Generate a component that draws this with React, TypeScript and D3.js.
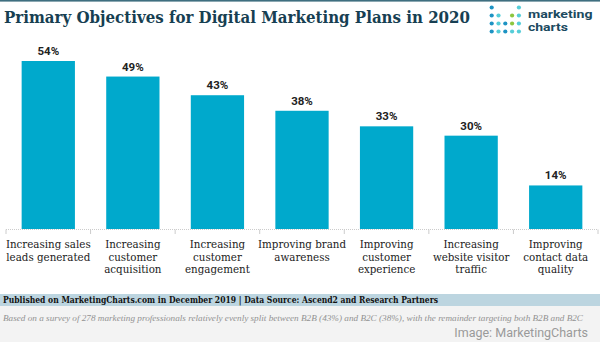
import React from "react";
import * as d3 from "d3";

const categories: string[][] = [
  ["Increasing sales", "leads generated"],
  ["Increasing", "customer", "acquisition"],
  ["Increasing", "customer", "engagement"],
  ["Improving brand", "awareness"],
  ["Improving", "customer", "experience"],
  ["Increasing", "website visitor", "traffic"],
  ["Improving", "contact data", "quality"],
];
const values: number[] = [54, 49, 43, 38, 33, 30, 14];
const title = "Primary Objectives for Digital Marketing Plans in 2020";
const sourceText =
  "Published on MarketingCharts.com in December 2019 | Data Source: Ascend2 and Research Partners";
const noteText =
  "Based on a survey of 278 marketing professionals relatively evenly split between B2B (43%) and B2C (38%), with the remainder targeting both B2B and B2C";
const creditText = "Image: MarketingCharts";

const W = 600;
const H = 342;

const logoDots: { r: number; c: number; color: string }[] = [
  { r: 0, c: 0, color: "#1d93c3" },
  { r: 0, c: 4, color: "#55cdd8" },
  { r: 1, c: 0, color: "#1d93c3" },
  { r: 1, c: 1, color: "#55cdd8" },
  { r: 1, c: 3, color: "#8cc63f" },
  { r: 1, c: 4, color: "#55cdd8" },
  { r: 2, c: 0, color: "#1d93c3" },
  { r: 2, c: 1, color: "#55cdd8" },
  { r: 2, c: 2, color: "#1d93c3" },
  { r: 2, c: 3, color: "#8cc63f" },
  { r: 2, c: 4, color: "#55cdd8" },
  { r: 3, c: 0, color: "#1d93c3" },
  { r: 3, c: 1, color: "#55cdd8" },
  { r: 3, c: 2, color: "#1d93c3" },
  { r: 3, c: 3, color: "#55cdd8" },
  { r: 3, c: 4, color: "#55cdd8" },
];

export default function App() {
  const idx = categories.map((_, i) => String(i));
  const x = d3.scaleBand<string>().domain(idx).range([6, 598]).paddingInner(0.37).paddingOuter(0.185);
  const y = d3.scaleLinear().domain([0, 54]).range([229, 61]);
  const step = x.step();
  const boundaries = d3.range(categories.length + 1).map((i) => 6 + i * step);

  return (
    <svg
      width={W}
      height={H}
      style={{ position: "absolute", left: 0, top: 0, display: "block" }}
    >
      <rect x={0} y={0} width={W} height={H} fill="#ffffff" />
      <rect x={0} y={0} width={W} height={1.6} fill="#3f6f80" />
      <text
        x={4}
        y={23.3}
        fontFamily="'DejaVu Serif', serif"
        fontWeight="bold"
        fontSize={16}
        fill="#173f52"
        textLength={466}
        lengthAdjust="spacingAndGlyphs"
      >
        {title}
      </text>

      {/* logo */}
      {logoDots.map((d, i) => (
        <circle key={i} cx={491.7 + d.c * 6.8} cy={7.5 + d.r * 8} r={2.1} fill={d.color} />
      ))}
      <text
        x={528}
        y={18.3}
        fontFamily="Roboto, sans-serif"
        fontWeight="bold"
        fontSize={11.5}
        fill="#1b4a5f"
        textLength={64.5}
        lengthAdjust="spacingAndGlyphs"
      >
        marketing
      </text>
      <text
        x={528}
        y={31.3}
        fontFamily="Roboto, sans-serif"
        fontWeight="bold"
        fontSize={11.5}
        fill="#1b4a5f"
        textLength={40}
        lengthAdjust="spacingAndGlyphs"
      >
        charts
      </text>

      {/* bars */}
      {values.map((v, i) => (
        <g key={i}>
          <rect
            x={x(String(i))}
            y={y(v)}
            width={x.bandwidth()}
            height={y(0) - y(v)}
            fill="#00a9cc"
          />
          <text
            x={(x(String(i)) as number) + x.bandwidth() / 2}
            y={y(v) - 6}
            textAnchor="middle"
            fontFamily="Roboto, sans-serif"
            fontWeight="bold"
            fontSize={11.5}
            fill="#222"
          >
            {v}%
          </text>
        </g>
      ))}

      {/* axis */}
      <line x1={6} x2={598} y1={229.5} y2={229.5} stroke="#cccccc" strokeWidth={1} strokeDasharray="1,1" />
      {boundaries.map((bx, i) => (
        <line key={i} x1={bx} x2={bx} y1={229.5} y2={234} stroke="#cccccc" strokeWidth={1} />
      ))}

      {categories.map((lines, i) => (
        <text
          key={i}
          x={(x(String(i)) as number) + x.bandwidth() / 2}
          y={248.3}
          textAnchor="middle"
          fontFamily="'DejaVu Serif', serif"
          fontSize={10.3}
          fill="#222"
        >
          {lines.map((l, j) => (
            <tspan key={j} x={(x(String(i)) as number) + x.bandwidth() / 2} y={248.3 + j * 12.2}>
              {l}
            </tspan>
          ))}
        </text>
      ))}

      {/* footer */}
      <rect x={0} y={294} width={W} height={12} fill="#bcd5e0" />
      <rect x={0} y={306} width={W} height={36} fill="#f3f3f3" />
      <text
        x={3}
        y={303.3}
        fontFamily="'DejaVu Serif', serif"
        fontWeight="bold"
        fontSize={9}
        fill="#111"
        textLength={435}
        lengthAdjust="spacingAndGlyphs"
      >
        {sourceText}
      </text>
      <text
        x={3}
        y={320.7}
        fontFamily="'Liberation Serif', serif"
        fontStyle="italic"
        fontSize={9}
        fill="#929292"
        textLength={580}
        lengthAdjust="spacingAndGlyphs"
      >
        {noteText}
      </text>
      <text
        x={588}
        y={336.5}
        textAnchor="end"
        fontFamily="Roboto, sans-serif"
        fontSize={12.5}
        fill="#9a9a9a"
      >
        {creditText}
      </text>
    </svg>
  );
}
